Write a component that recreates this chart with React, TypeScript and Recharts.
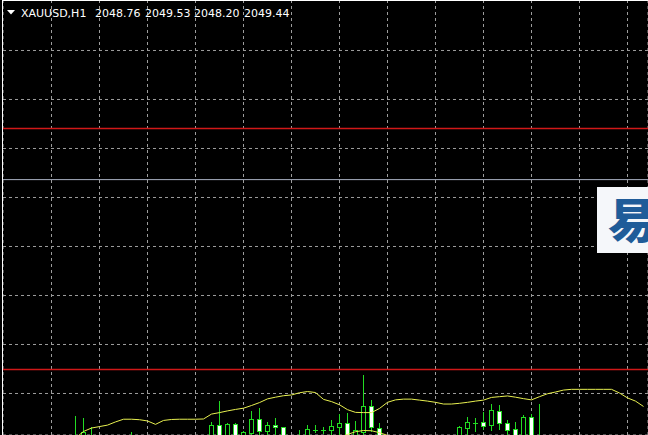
import { Bar, CartesianGrid, ComposedChart, Line, ReferenceLine, XAxis, YAxis } from 'recharts'

// XAUUSD H1, bars 9..80 of the visible window (earlier bars sit below the bottom edge)
const FIRST_BAR = 9

const OPEN = [
  2050.05, 2050.10, 2050.25, 2050.15, 2049.95, 2050.05, 2050.12, 2050.00, 2050.20, 2049.98,
  2049.80, 2049.95, 2050.15, 2050.05, 2050.10, 2050.02, 2049.96, 2050.10, 2050.71, 2050.05,
  2050.76, 2050.15, 2050.40, 2050.95, 2050.46, 2050.71, 2050.62, 2050.25, 2050.05, 2050.20,
  2050.53, 2050.52, 2050.49, 2050.63, 2050.78, 2050.20, 2050.44, 2051.47, 2050.59, 2050.20,
  2049.95, 2049.80, 2049.90, 2049.85, 2049.65, 2049.78, 2049.95, 2050.00, 2050.20, 2050.60,
  2050.80, 2050.85, 2050.71, 2051.29, 2050.81, 2050.54, 2050.20, 2051.03, 2050.20, 2049.90,
  2049.70, 2049.55, 2049.40, 2049.25, 2049.35, 2049.20, 2049.00, 2048.85, 2048.95, 2048.62,
  2048.80, 2048.76,
]
const HIGH = [
  2051.08, 2051.00, 2050.63, 2050.22, 2050.10, 2050.20, 2050.25, 2050.44, 2050.26, 2050.12,
  2050.05, 2050.22, 2050.26, 2050.18, 2050.24, 2050.15, 2050.20, 2050.85, 2051.71, 2050.78,
  2050.78, 2050.45, 2051.27, 2051.40, 2050.85, 2051.02, 2050.64, 2050.28, 2050.51, 2050.73,
  2050.71, 2050.63, 2050.90, 2051.16, 2051.20, 2050.88, 2052.76, 2051.72, 2050.80, 2050.26,
  2050.10, 2049.98, 2050.05, 2049.96, 2049.88, 2050.02, 2050.12, 2050.18, 2050.67, 2051.04,
  2050.99, 2051.24, 2051.57, 2051.53, 2050.92, 2050.82, 2051.12, 2051.16, 2051.57, 2050.10,
  2049.95, 2049.80, 2049.62, 2049.50, 2049.55, 2049.40, 2049.22, 2049.10, 2049.15, 2048.90,
  2049.05, 2049.53,
]
const LOW = [
  2049.95, 2049.98, 2049.90, 2049.85, 2049.80, 2049.90, 2049.95, 2049.85, 2049.90, 2049.70,
  2049.65, 2049.85, 2049.95, 2049.90, 2049.98, 2049.88, 2049.90, 2049.90, 2049.85, 2049.95,
  2050.00, 2050.05, 2050.20, 2050.20, 2050.25, 2050.20, 2050.10, 2049.95, 2049.90, 2050.10,
  2050.38, 2050.33, 2050.25, 2050.20, 2050.10, 2050.10, 2050.20, 2050.44, 2050.05, 2049.85,
  2049.70, 2049.60, 2049.72, 2049.55, 2049.50, 2049.70, 2049.80, 2049.90, 2050.10, 2050.25,
  2050.41, 2050.50, 2050.45, 2050.51, 2050.25, 2050.10, 2050.10, 2050.00, 2049.80, 2049.60,
  2049.45, 2049.30, 2049.10, 2049.05, 2049.10, 2048.90, 2048.75, 2048.60, 2048.50, 2048.30,
  2048.40, 2048.20,
]
const CLOSE = [
  2050.25, 2050.43, 2050.15, 2049.95, 2050.05, 2050.12, 2050.00, 2050.20, 2049.98, 2049.80,
  2049.95, 2050.15, 2050.05, 2050.10, 2050.02, 2049.96, 2050.10, 2050.71, 2050.00, 2050.74,
  2050.10, 2050.43, 2050.95, 2050.47, 2050.71, 2050.62, 2050.25, 2050.05, 2050.20, 2050.56,
  2050.52, 2050.51, 2050.67, 2050.81, 2050.20, 2050.50, 2051.47, 2050.64, 2050.20, 2049.95,
  2049.80, 2049.90, 2049.85, 2049.65, 2049.78, 2049.95, 2050.00, 2050.20, 2050.63, 2050.82,
  2050.79, 2050.69, 2051.33, 2050.78, 2050.53, 2050.20, 2051.03, 2050.15, 2049.90, 2049.70,
  2049.55, 2049.40, 2049.25, 2049.35, 2049.20, 2049.00, 2048.85, 2048.95, 2048.62, 2048.80,
  2048.76, 2049.44,
]
// yellow indicator lines
const UPPER = [
  2050.18, 2050.45, 2050.59, 2050.65, 2050.71, 2050.84, 2050.95, 2050.95, 2050.93, 2050.88,
  2050.74, 2050.90, 2050.94, 2050.95, 2050.95, 2050.95, 2050.96, 2051.16, 2051.22, 2051.29,
  2051.35, 2051.40, 2051.51, 2051.63, 2051.78, 2051.85, 2051.91, 2051.94, 2052.03, 2052.08,
  2052.04, 2051.76, 2051.67, 2051.54, 2051.34, 2051.23, 2051.22, 2051.22, 2051.39, 2051.64,
  2051.74, 2051.77, 2051.77, 2051.73, 2051.69, 2051.64, 2051.57, 2051.57, 2051.60, 2051.64,
  2051.69, 2051.73, 2051.84, 2051.87, 2051.90, 2051.85, 2051.79, 2051.74, 2051.87, 2051.99,
  2052.06, 2052.14, 2052.17, 2052.17, 2052.17, 2052.17, 2052.17, 2052.17, 2052.02, 2051.82,
  2051.69, 2051.47,
]
const LOWER = [
  2049.40, 2049.45, 2049.50, 2049.55, 2049.60, 2049.62, 2049.65, 2049.68, 2049.70, 2049.72,
  2049.75, 2049.78, 2049.80, 2049.82, 2049.85, 2049.88, 2049.90, 2049.90, 2049.92, 2049.93,
  2049.95, 2049.96, 2049.97, 2049.98, 2050.00, 2050.01, 2050.02, 2050.03, 2050.05, 2050.07,
  2050.08, 2050.10, 2050.14, 2050.22, 2050.33, 2050.44, 2050.49, 2050.48, 2050.40, 2050.29,
  2050.18, 2050.12, 2050.08, 2050.05, 2050.02, 2050.00, 2049.98, 2049.97, 2049.98, 2050.00,
  2050.02, 2050.03, 2050.04, 2050.05, 2050.06, 2050.07, 2050.08, 2050.09, 2050.06, 2050.02,
  2049.98, 2049.92, 2049.85, 2049.78, 2049.70, 2049.60, 2049.50, 2049.40, 2049.30, 2049.22,
  2049.15, 2049.08,
]

const GRID_PRICES = [2052, 2054, 2056, 2058, 2060, 2062, 2064, 2066]
const GRID_BARS = [6, 12, 18, 24, 30, 36, 42, 48, 54, 60, 66, 72, 78]
const RED_LEVELS = [2062.82, 2052.98]
const GRAY_LEVEL = 2060.73

const SYMBOL = 'XAUUSD,H1'

const CANDLE = '#22dc22'
const YELLOW = '#e8f050'

const data = OPEN.map((open, i) => ({
  bar: FIRST_BAR + i,
  open,
  high: HIGH[i],
  low: LOW[i],
  close: CLOSE[i],
  range: [LOW[i], HIGH[i]],
  upper: UPPER[i],
  lower: LOWER[i],
}))

function Candle(props: any) {
  const { x, y, width, height, payload } = props
  if (x == null || y == null || !payload) return null
  const top = Math.min(y, y + height)
  const bottom = Math.max(y, y + height)
  const span = payload.high - payload.low || 1
  const toY = (v: number) => top + ((payload.high - v) / span) * (bottom - top)
  const col = Math.floor(x + width / 2) + 0.5
  const yo = Math.round(toY(payload.open))
  const yc = Math.round(toY(payload.close))
  const bt = Math.min(yo, yc)
  const bb = Math.max(yo, yc)
  const bear = payload.close < payload.open
  return (
    <g>
      <line x1={col} x2={col} y1={Math.round(top)} y2={Math.round(bottom)} stroke={CANDLE} strokeWidth={1} />
      {bb - bt < 1 ? (
        <line x1={col - 2.5} x2={col + 2.5} y1={bt + 0.5} y2={bt + 0.5} stroke={CANDLE} strokeWidth={1} />
      ) : (
        <rect x={col - 2} y={bt + 0.5} width={4} height={bb - bt} fill={bear ? '#ffffff' : '#000000'} stroke={CANDLE} strokeWidth={1} />
      )}
    </g>
  )
}

export default function App() {
  const last = data[data.length - 1]
  const quote = [last.open, last.high, last.low, last.close].map((v) => v.toFixed(2))
  const quoteX = [95, 145, 194, 244]

  return (
    <div style={{ position: 'absolute', left: 0, top: 0, width: 648, height: 435, background: '#000', overflow: 'hidden' }}>
      <ComposedChart width={648} height={435} data={data} margin={{ top: 0, right: 0, bottom: 0, left: 3 }}>
        <XAxis dataKey="bar" type="number" domain={[-0.0625, 80.5625]} ticks={GRID_BARS} hide allowDataOverflow />
        <YAxis type="number" domain={[2050.3061, 2068.0612]} ticks={GRID_PRICES} hide allowDataOverflow />
        <CartesianGrid stroke="#9c9c9c" strokeDasharray="3 3" />
        {RED_LEVELS.map((p) => (
          <ReferenceLine key={p} y={p} stroke="#d01818" strokeWidth={1.5} />
        ))}
        <ReferenceLine y={GRAY_LEVEL} stroke="#a8b0c0" strokeWidth={1} />
        <Line dataKey="upper" type="linear" stroke={YELLOW} strokeWidth={1} dot={false} isAnimationActive={false} />
        <Line dataKey="lower" type="linear" stroke={YELLOW} strokeWidth={1} dot={false} isAnimationActive={false} />
        <Bar dataKey="range" barSize={5} shape={Candle} isAnimationActive={false} />
      </ComposedChart>

      {/* chart frame */}
      <div style={{ position: 'absolute', left: 2, top: 0, width: 1, height: 435, background: '#fff' }} />
      <div style={{ position: 'absolute', left: 2, top: 0, width: 646, height: 1, background: '#fff' }} />

      {/* symbol header */}
      <svg style={{ position: 'absolute', left: 0, top: 0 }} width={20} height={20}>
        <polygon points="7,10 15,10 11,14.5" fill="#fff" />
      </svg>
      <div style={{ position: 'absolute', left: 21, top: 7, color: '#fff', font: '11px "DejaVu Sans"', lineHeight: '13px', whiteSpace: 'pre' }}>
        {SYMBOL}
      </div>
      {quote.map((q, i) => (
        <div key={i} style={{ position: 'absolute', left: quoteX[i], top: 7, color: '#fff', font: '11px "DejaVu Sans"', lineHeight: '13px', whiteSpace: 'pre' }}>
          {q}
        </div>
      ))}

      {/* watermark logo box, cut by the right edge as in the source */}
      <div style={{ position: 'absolute', left: 597, top: 187, width: 70, height: 66, background: '#f5f7fa' }}>
        <div style={{ position: 'absolute', left: 11, top: 4, color: '#1f5c99', font: '900 48px "Noto Sans CJK SC"', lineHeight: '52px' }}>
          易
        </div>
      </div>
    </div>
  )
}
